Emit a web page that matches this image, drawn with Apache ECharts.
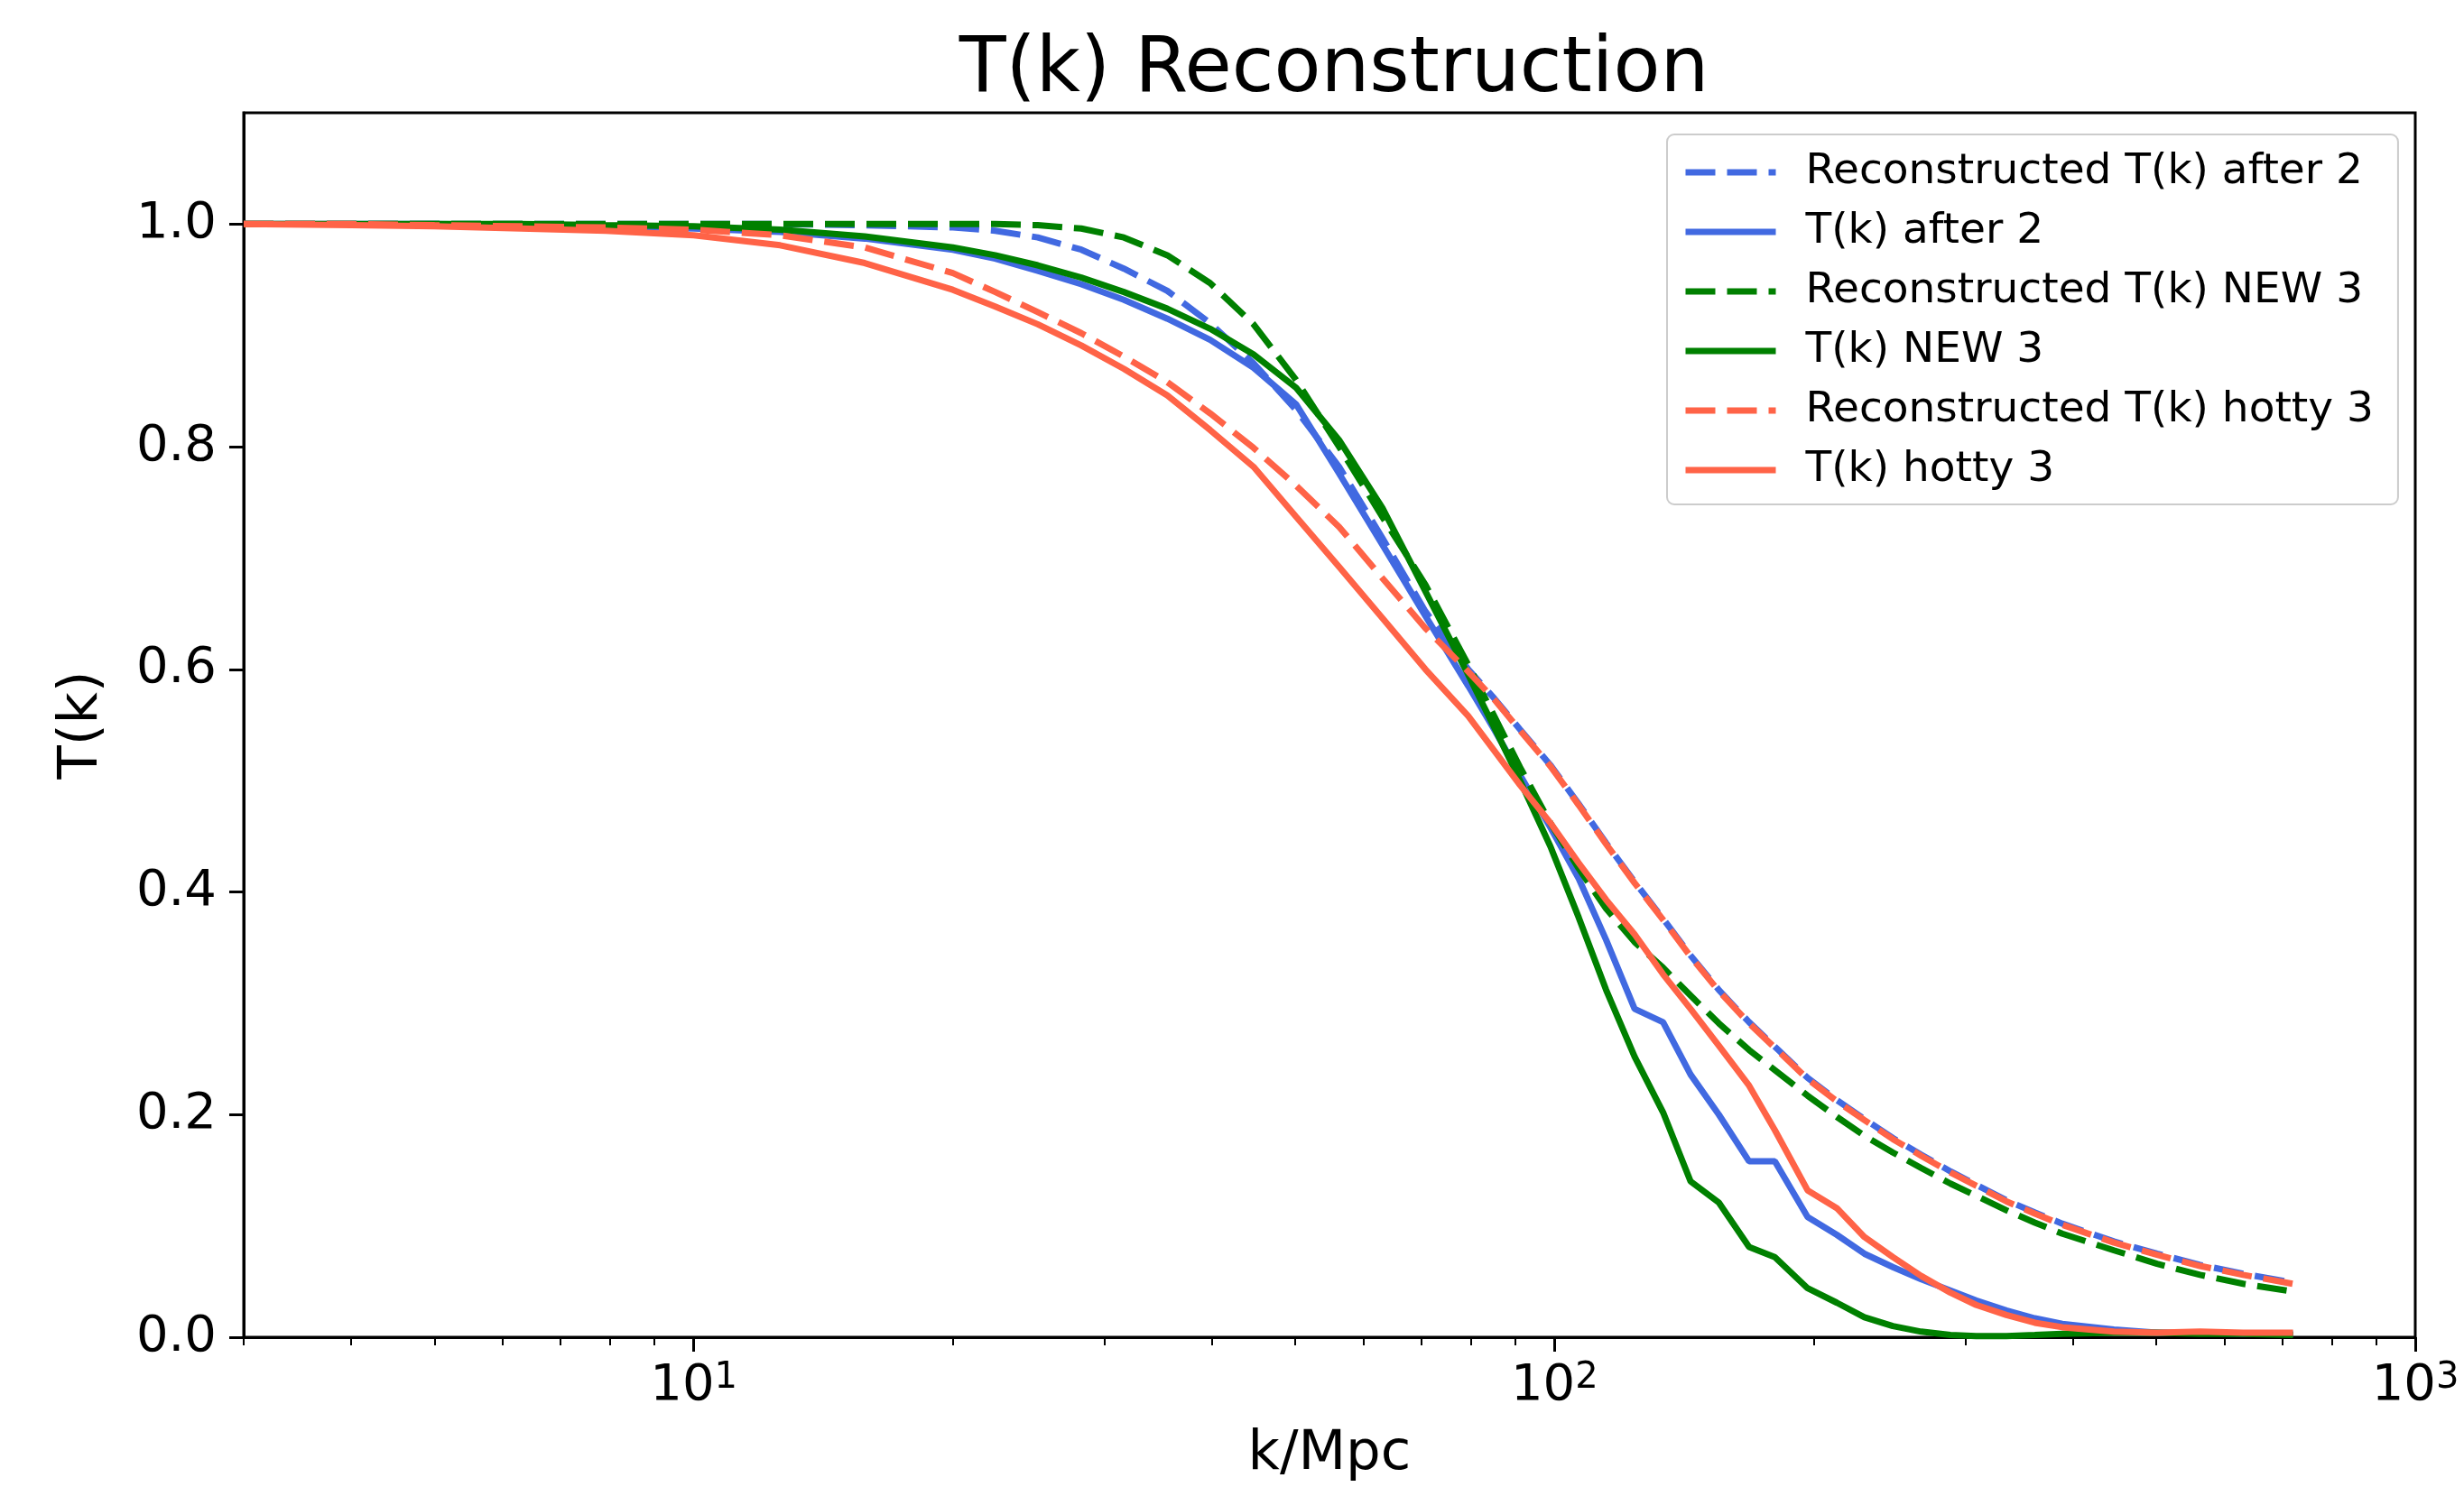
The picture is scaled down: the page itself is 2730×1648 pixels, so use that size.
<!DOCTYPE html>
<html><head><meta charset="utf-8">
<script src="https://cdn.jsdelivr.net/npm/echarts@6/dist/echarts.min.js"></script>
<style>html,body{margin:0;padding:0;background:#fff}#c{width:2730px;height:1648px}</style>
</head><body><div id="c"></div>
<script>
// k grid (k/Mpc)
const kValues = [3.0, 4.0, 5.0, 6.3, 7.9, 10, 12.6, 15.8, 20, 22.4, 25.1, 28.2, 31.6, 35.5, 39.8, 44.7, 50.1, 56.2, 63.1, 70.8,
  79.4, 85.1, 91.2, 98.9, 106.7, 114.8, 123.9, 133.7, 143.9, 155.2, 168.3, 180.3, 196.8, 212.8, 229.1, 247.2, 266.7, 288.4,
  309.0, 335.0, 361.4, 389.0, 446.7, 501.2, 562.3, 631.0, 721.1];

const recAfter2 = [1.0, 1.0, 1.0, 1.0, 1.0, 1.0, 1.0, 0.999, 0.997, 0.994, 0.988, 0.977, 0.960, 0.940, 0.911, 0.875, 0.833, 0.782, 0.718, 0.652,
  0.600, 0.574, 0.546, 0.514, 0.479, 0.444, 0.409, 0.376, 0.343, 0.312, 0.283, 0.261, 0.233, 0.213, 0.196, 0.179, 0.164, 0.149,
  0.137, 0.123, 0.112, 0.102, 0.086, 0.075, 0.065, 0.057, 0.049];

const after2 = [1.0, 1.0, 1.0, 0.999, 0.998, 0.996, 0.993, 0.987, 0.977, 0.969, 0.958, 0.946, 0.932, 0.915, 0.896, 0.871, 0.838, 0.776, 0.712, 0.648,
  0.585, 0.546, 0.505, 0.458, 0.412, 0.357, 0.295, 0.283, 0.236, 0.200, 0.158, 0.158, 0.108, 0.092, 0.075, 0.063, 0.052, 0.042,
  0.033, 0.024, 0.017, 0.012, 0.007, 0.004, 0.004, 0.003, 0.003];

const recNew3 = [1.0, 1.0, 1.0, 1.0, 1.0, 1.0, 1.0, 1.0, 1.0, 1.0, 0.999, 0.996, 0.988, 0.972, 0.947, 0.910, 0.860, 0.800, 0.737, 0.676,
  0.604, 0.558, 0.512, 0.462, 0.421, 0.385, 0.355, 0.332, 0.307, 0.282, 0.258, 0.240, 0.217, 0.198, 0.181, 0.166, 0.152, 0.138,
  0.127, 0.114, 0.103, 0.093, 0.078, 0.066, 0.056, 0.048, 0.041];

const new3 = [1.0, 1.0, 1.0, 1.0, 0.999, 0.998, 0.995, 0.989, 0.979, 0.972, 0.963, 0.952, 0.939, 0.924, 0.906, 0.883, 0.853, 0.806, 0.745, 0.670,
  0.595, 0.548, 0.500, 0.441, 0.377, 0.312, 0.252, 0.202, 0.140, 0.121, 0.081, 0.072, 0.044, 0.031, 0.018, 0.010, 0.005, 0.002,
  0.001, 0.001, 0.002, 0.003, 0.004, 0.004, 0.003, 0.003, 0.002];

const recHotty3 = [1.0, 1.0, 0.999, 0.998, 0.997, 0.995, 0.990, 0.979, 0.956, 0.939, 0.921, 0.902, 0.881, 0.858, 0.830, 0.799, 0.765, 0.728, 0.682, 0.637,
  0.598, 0.573, 0.545, 0.513, 0.478, 0.443, 0.408, 0.375, 0.342, 0.311, 0.282, 0.260, 0.232, 0.212, 0.195, 0.178, 0.163, 0.148,
  0.136, 0.122, 0.111, 0.101, 0.085, 0.074, 0.064, 0.056, 0.048];

const hotty3 = [1.0, 0.999, 0.998, 0.996, 0.994, 0.990, 0.981, 0.965, 0.941, 0.926, 0.910, 0.891, 0.870, 0.846, 0.815, 0.782, 0.737, 0.692, 0.646, 0.600,
  0.558, 0.527, 0.496, 0.462, 0.426, 0.393, 0.362, 0.326, 0.295, 0.262, 0.226, 0.186, 0.132, 0.116, 0.090, 0.072, 0.055, 0.040,
  0.029, 0.020, 0.013, 0.009, 0.005, 0.004, 0.005, 0.004, 0.004];

const seriesNames = ['Reconstructed T(k) after 2', 'T(k) after 2', 'Reconstructed T(k) NEW 3', 'T(k) NEW 3',
  'Reconstructed T(k) hotty 3', 'T(k) hotty 3'];
const seriesData = [recAfter2, after2, recNew3, new3, recHotty3, hotty3];
const seriesColors = ['#4169E1', '#4169E1', '#008000', '#008000', '#FF6347', '#FF6347'];
const seriesDashed = [true, false, true, false, true, false];

const xMajorTicks = [10, 100, 1000];
const xMinorTicks = [3, 4, 5, 6, 7, 8, 9, 20, 30, 40, 50, 60, 70, 80, 90, 200, 300, 400, 500, 600, 700, 800, 900];
const yTicks = [0, 0.2, 0.4, 0.6, 0.8, 1.0];

const FONT = 'DejaVu Sans';
const LW = 7;
const DASH = [33, 13];
const chart = echarts.init(document.getElementById('c'), null, {renderer: 'canvas'});

const series = seriesNames.map((name, i) => ({
  name: name,
  type: 'line',
  xAxisIndex: 0,
  yAxisIndex: 0,
  data: kValues.map((k, j) => [k, seriesData[i][j]]),
  symbol: 'none',
  showSymbol: false,
  smooth: false,
  clip: true,
  color: seriesColors[i],
  lineStyle: {color: seriesColors[i], width: LW, type: seriesDashed[i] ? DASH : 'solid', cap: 'butt'},
  itemStyle: {color: seriesColors[i]},
  emphasis: {disabled: true},
  animation: false
}));

const option = {
  backgroundColor: '#ffffff',
  animation: false,
  title: {
    text: 'T(k) Reconstruction',
    left: 1473,
    top: 31,
    textAlign: 'center',
    textStyle: {fontFamily: FONT, fontSize: 85, fontWeight: 'normal', color: '#000'}
  },
  grid: {left: 270, right: 54, top: 125, bottom: 166, show: true, borderColor: '#000', borderWidth: 3, backgroundColor: 'transparent'},
  legend: {
    orient: 'vertical',
    left: 1847,
    top: 149,
    padding: [17, 27, 13, 17],
    itemWidth: 100,
    itemHeight: 20,
    itemGap: 16,
    backgroundColor: '#ffffff',
    borderColor: '#cccccc',
    borderWidth: 2,
    borderRadius: 8,
    data: seriesNames,
    itemStyle: {opacity: 0},
    lineStyle: {width: LW},
    textStyle: {fontFamily: FONT, fontSize: 47, color: '#000', lineHeight: 50, padding: [0, 0, 0, 28]}
  },
  xAxis: [
    {
      type: 'log', logBase: 10, min: 3, max: 1000, gridIndex: 0, position: 'bottom',
      name: 'k/Mpc', nameLocation: 'middle', nameGap: 100,
      nameTextStyle: {fontFamily: FONT, fontSize: 61, color: '#000'},
      axisLine: {show: true, lineStyle: {color: '#000', width: 3}},
      axisTick: {show: true, length: 16, lineStyle: {color: '#000', width: 3}, customValues: xMajorTicks},
      minorTick: {show: false},
      splitLine: {show: false},
      axisLabel: {
        customValues: xMajorTicks,
        margin: 26,
        formatter: v => '{b|10}{s|' + Math.round(Math.log10(v)) + '}',
        rich: {
          b: {fontFamily: FONT, fontSize: 56, color: '#000', lineHeight: 56, verticalAlign: 'bottom'},
          s: {fontFamily: FONT, fontSize: 40, color: '#000', lineHeight: 46, verticalAlign: 'top', padding: [0, 0, 26, 0]}
        }
      }
    },
    {
      type: 'log', logBase: 10, min: 3, max: 1000, gridIndex: 0, position: 'bottom',
      axisLine: {show: false},
      axisTick: {show: true, length: 9, lineStyle: {color: '#000', width: 2}, customValues: xMinorTicks},
      axisLabel: {show: false},
      minorTick: {show: false},
      splitLine: {show: false}
    }
  ],
  yAxis: {
    type: 'value', min: 0, max: 1.1, gridIndex: 0,
    name: 'T(k)', nameLocation: 'middle', nameGap: 148,
    nameTextStyle: {fontFamily: FONT, fontSize: 61, color: '#000'},
    axisLine: {show: true, lineStyle: {color: '#000', width: 3}},
    axisTick: {show: true, length: 16, lineStyle: {color: '#000', width: 3}, customValues: yTicks},
    splitLine: {show: false},
    axisLabel: {
      customValues: yTicks,
      margin: 30,
      fontFamily: FONT, fontSize: 56, color: '#000',
      formatter: v => v.toFixed(1)
    }
  },
  series: series
};
chart.setOption(option);
</script>
</body></html>
